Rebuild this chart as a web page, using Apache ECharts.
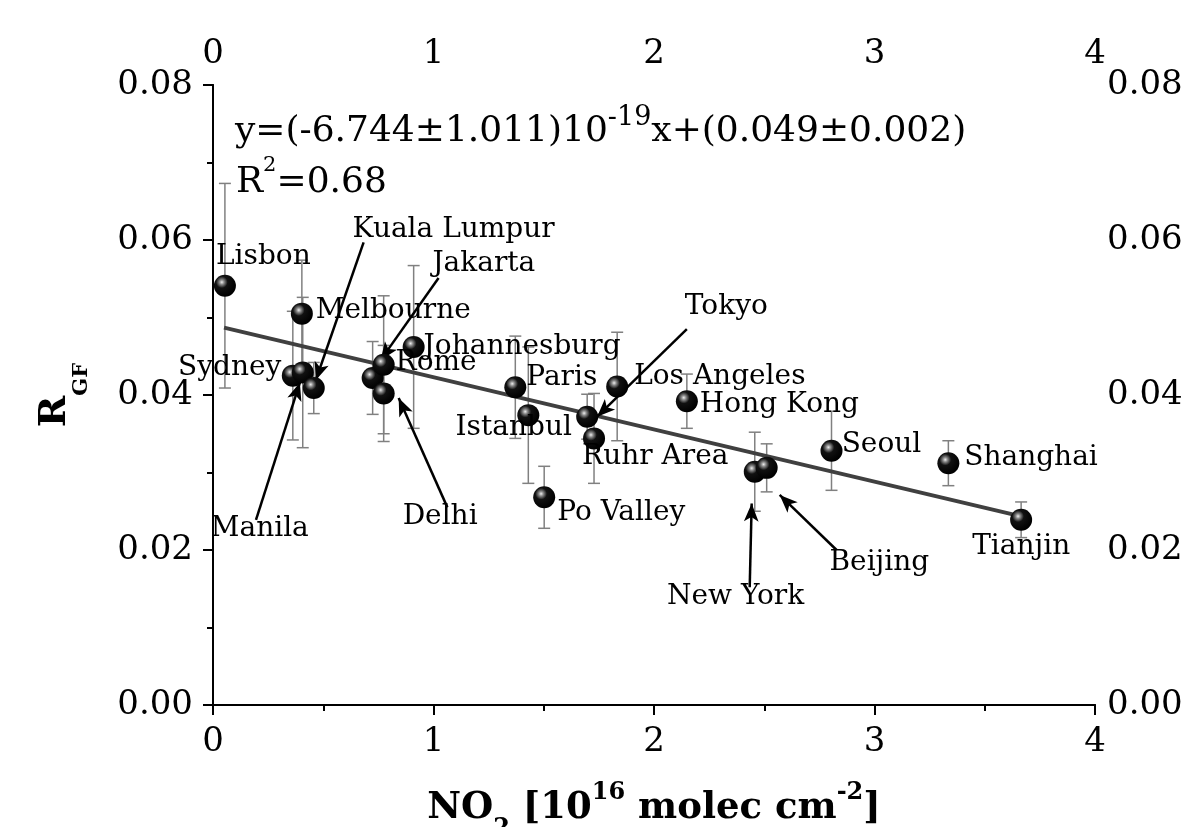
<!DOCTYPE html>
<html><head><meta charset="utf-8">
<script src="https://cdn.jsdelivr.net/npm/echarts@6/dist/echarts.min.js"></script>
<style>html,body{margin:0;padding:0;background:#fff;overflow:hidden}#c{width:1191px;height:827px}</style>
</head><body><div id="c"></div>
<script>
// ---- data ----
const cities = ['Lisbon','Melbourne','Sydney','Manila','Kuala Lumpur','Rome','Jakarta','Delhi','Johannesburg','Paris','Istanbul','Po Valley','Tokyo','Ruhr Area','Los Angeles','Hong Kong','New York','Beijing','Seoul','Shanghai','Tianjin'];
const no2   = [0.054,0.403,0.362,0.407,0.457,0.724,0.774,0.774,0.910,1.371,1.430,1.502,1.697,1.728,1.833,2.149,2.457,2.511,2.805,3.335,3.665];
const rgf   = [0.0541,0.0505,0.0425,0.0429,0.0409,0.0422,0.0439,0.0402,0.0462,0.0410,0.0374,0.0268,0.0372,0.0344,0.0411,0.0392,0.0301,0.0306,0.0328,0.0312,0.0239];
const rgfErr= [0.0132,0.0069,0.0083,0.0097,0.0033,0.0047,0.0089,0.0062,0.0105,0.0066,0.0088,0.0040,0.0029,0.0058,0.0070,0.0035,0.0051,0.0031,0.0051,0.0029,0.0023];
const fitLine = [[0.05,0.0487],[3.67,0.0243]];
const xTicks = [0,1,2,3,4];
const yTicks = [0.00,0.02,0.04,0.06,0.08];

// ---- annotation layout (label anchors in data units) ----
const labelAnchors = {
  'Lisbon':[0.0136,0.0578,'left'],'Melbourne':[0.466,0.0509,'left'],'Sydney':[0.31,0.0435,'right'],
  'Manila':[-0.01,0.0228,'left'],'Kuala Lumpur':[0.633,0.0613,'left'],'Rome':[0.828,0.0442,'left'],
  'Jakarta':[0.995,0.0570,'left'],'Delhi':[0.860,0.0243,'left'],'Johannesburg':[0.955,0.0462,'left'],
  'Paris':[1.421,0.0422,'left'],'Istanbul':[1.100,0.0358,'left'],'Po Valley':[1.561,0.0248,'left'],
  'Tokyo':[2.140,0.0514,'left'],'Ruhr Area':[1.674,0.0320,'left'],'Los Angeles':[1.910,0.0423,'left'],
  'Hong Kong':[2.208,0.0387,'left'],'New York':[2.059,0.0140,'left'],'Beijing':[2.796,0.0183,'left'],
  'Seoul':[2.851,0.0336,'left'],'Shanghai':[3.407,0.0319,'left'],'Tianjin':[3.443,0.0204,'left']
};
const arrows = [
  [[0.683,0.0597],[0.466,0.0419]],
  [[0.195,0.0239],[0.394,0.0416]],
  [[1.023,0.0551],[0.760,0.0445]],
  [[1.063,0.0255],[0.842,0.0396]],
  [[2.149,0.0485],[1.742,0.0372]],
  [[2.434,0.0152],[2.443,0.0260]],
  [[2.828,0.0200],[2.570,0.0271]]
];

const FONT = 'DejaVu Serif';
const chart = echarts.init(document.getElementById('c'));
const points = cities.map((n,i)=>({name:n,value:[no2[i],rgf[i]]}));
const errData = cities.map((n,i)=>[no2[i], rgf[i]-rgfErr[i], rgf[i]+rgfErr[i]]);
const labelData = cities.map(n=>({name:n,value:[labelAnchors[n][0],labelAnchors[n][1]],
  label:{align:labelAnchors[n][2]}}));

const axisCommon = {
  type:'value', min:0, max:4, interval:1,
  axisLine:{show:true,lineStyle:{color:'#000',width:2}},
  splitLine:{show:false},
  minorTick:{show:true,splitNumber:2,length:6,lineStyle:{color:'#000',width:2}},
  axisTick:{show:true,length:10,lineStyle:{color:'#000',width:2}},
  axisLabel:{fontFamily:FONT,fontSize:34,color:'#000'}
};
const yCommon = {
  type:'value', min:0, max:0.08, interval:0.02,
  axisLine:{show:true,lineStyle:{color:'#000',width:2}},
  splitLine:{show:false},
  minorTick:{show:true,splitNumber:2,length:6,lineStyle:{color:'#000',width:2}},
  axisTick:{show:true,length:10,lineStyle:{color:'#000',width:2}},
  axisLabel:{fontFamily:FONT,fontSize:34,color:'#000',formatter:v=>v.toFixed(2)}
};

chart.setOption({
  animation:false,
  grid:{left:213,right:96,top:85,bottom:122,containLabel:false,outerBoundsMode:'none'},
  xAxis:[
    Object.assign({},axisCommon,{position:'bottom',
      axisLabel:Object.assign({},axisCommon.axisLabel,{margin:20}),
      name:'{b|NO}{sub|2}{b| [10}{sup|16}{b| molec cm}{sup|-2}{b|]}',
      nameLocation:'middle',nameGap:76,
      nameTextStyle:{rich:{
        b:{fontFamily:FONT,fontWeight:'bold',fontSize:37,color:'#000',lineHeight:46,verticalAlign:'bottom'},
        sub:{fontFamily:FONT,fontWeight:'bold',fontSize:24,color:'#000',verticalAlign:'bottom',padding:[0,0,-14,0]},
        sup:{fontFamily:FONT,fontWeight:'bold',fontSize:24,color:'#000',verticalAlign:'top'}
      }}}),
    Object.assign({},axisCommon,{position:'top',
      axisTick:Object.assign({},axisCommon.axisTick,{inside:true}),
      minorTick:Object.assign({},axisCommon.minorTick),
      axisLabel:Object.assign({},axisCommon.axisLabel,{margin:14})})
  ],
  yAxis:[
    Object.assign({},yCommon,{position:'left',
      axisLabel:Object.assign({},yCommon.axisLabel,{margin:20}),
      name:'{b|R}{sub|GF}',nameLocation:'middle',nameGap:135,nameRotate:90,
      nameTextStyle:{rich:{
        b:{fontFamily:FONT,fontWeight:'bold',fontSize:38,color:'#000',lineHeight:46},
        sub:{fontFamily:FONT,fontWeight:'bold',fontSize:21,color:'#000',verticalAlign:'bottom',padding:[0,0,-14,0]}
      }}}),
    Object.assign({},yCommon,{position:'right',
      axisTick:Object.assign({},yCommon.axisTick,{inside:true}),
      axisLabel:Object.assign({},yCommon.axisLabel,{margin:12})})
  ],
  series:[
    {type:'custom',name:'err',xAxisIndex:0,yAxisIndex:0,data:errData,z:2,
     encode:{x:0,y:[1,2]},
     renderItem:function(params,api){
       const x=api.value(0);
       const lo=api.coord([x,api.value(1)]);
       const hi=api.coord([x,api.value(2)]);
       const w=6;
       const st={stroke:'#808080',lineWidth:1.5};
       return {type:'group',children:[
         {type:'line',shape:{x1:lo[0],y1:lo[1],x2:hi[0],y2:hi[1]},style:st},
         {type:'line',shape:{x1:lo[0]-w,y1:lo[1],x2:lo[0]+w,y2:lo[1]},style:st},
         {type:'line',shape:{x1:hi[0]-w,y1:hi[1],x2:hi[0]+w,y2:hi[1]},style:st}
       ]};
     }},
    {type:'line',data:fitLine,showSymbol:false,symbol:'none',z:3,
     lineStyle:{color:'#404040',width:4}},
    {type:'scatter',data:points,symbolSize:22,z:5,
     itemStyle:{opacity:1,color:{type:'radial',x:0.36,y:0.34,r:0.66,colorStops:[
       {offset:0,color:'#eeeeee'},{offset:0.16,color:'#888'},{offset:0.4,color:'#111'},{offset:1,color:'#000'}]},
       borderWidth:0}},
    {type:'scatter',data:labelData,symbolSize:0,z:6,clip:false,silent:true,
     itemStyle:{color:'rgba(0,0,0,0)',opacity:1},
     label:{show:true,formatter:'{b}',position:[0,0],verticalAlign:'middle',opacity:1,
       fontFamily:FONT,fontSize:28,color:'#000',textBorderWidth:0,textShadowBlur:0},
     markLine:{silent:true,symbol:['none','arrow'],symbolSize:[11,18],
       lineStyle:{color:'#000',width:2.5,type:'solid',opacity:1},label:{show:false},
       data:arrows.map(a=>[{coord:a[0]},{coord:a[1]}])}}
  ],
  graphic:[
    {type:'text',left:235,top:104,style:{
      text:'{m|y=(-6.744±1.011)10}{s|-19}{m|x+(0.049±0.002)}',
      rich:{m:{fontFamily:FONT,fontSize:36,fill:'#000',lineHeight:46,verticalAlign:'bottom'},
            s:{fontFamily:FONT,fontSize:27,fill:'#000',verticalAlign:'top'}}}},
    {type:'text',left:236,top:155,style:{
      text:'{m|R}{s|2}{m|=0.68}',
      rich:{m:{fontFamily:FONT,fontSize:36,fill:'#000',lineHeight:46,verticalAlign:'bottom'},
            s:{fontFamily:FONT,fontSize:21,fill:'#000',verticalAlign:'top'}}}}
  ]
});
</script></body></html>
